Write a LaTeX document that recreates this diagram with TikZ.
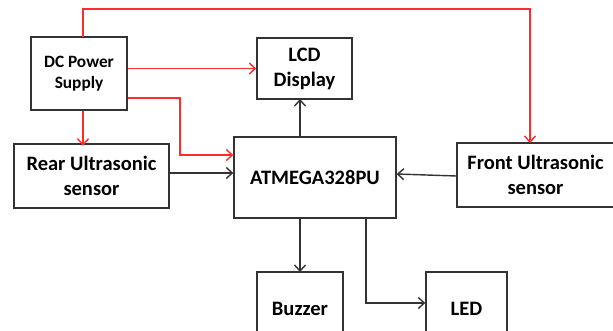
\documentclass[tikz,border=0pt]{standalone}
\usepackage{fontspec}
\setmainfont{Carlito}
\usetikzlibrary{arrows.meta}
\definecolor{ln}{HTML}{333333}
\definecolor{pwr}{HTML}{FF2A2A}
\tikzset{
  box/.style={draw=ln,line width=1.4pt,fill=white,align=center,inner sep=2pt,font=\bfseries\fontsize{20.5}{25}\selectfont},
  sbox/.style={box,font=\bfseries\fontsize{17.3}{21}\selectfont},
  ar/.style={-{Straight Barb[length=6pt,width=11pt]},line width=1.4pt,draw=ln},
  rar/.style={ar,draw=pwr},
}
\begin{document}
\begin{tikzpicture}[x=1pt,y=-1pt]
\useasboundingbox (0,0) rectangle (613,331);
\clip (0,0) rectangle (613,331);
\node[sbox,minimum width=96pt,minimum height=73pt] (dc) at (79,73.5) {DC Power\\Supply};
\node[box,minimum width=95pt,minimum height=61pt] (lcd) at (304.5,68.5) {LCD\\Display};
\node[box,minimum width=155pt,minimum height=64pt] (rear) at (91.5,176) {Rear Ultrasonic\\sensor};
\node[box,minimum width=162pt,minimum height=81pt] (mcu) at (315,177.5) {ATMEGA328PU};
\node[box,minimum width=157pt,minimum height=64pt] (front) at (535.5,175) {Front Ultrasonic\\sensor};
\node[box,minimum width=86pt,minimum height=73pt] (buz) at (300,308.5) {Buzzer};
\node[box,minimum width=81pt,minimum height=73pt] (led) at (466.5,308.5) {LED};
% power lines
\draw[rar] (dc.east |- lcd.west) -- (lcd.west);
\draw[rar] (dc.east) ++(0,24.5) -| (180,155) -- (mcu.west |- 0,155);
\draw[rar] (dc.south) ++(4,0) -- ++(0,35);
\draw[rar] (83,37) |- (530,9) -- (530,143);
% signals
\draw[ar] (rear.east |- 0,173) -- (mcu.west |- 0,173);
\draw[ar] (front.west |- 0,176) -- (mcu.east |- 0,174);
\draw[ar] (300,137) -- (300,99);
\draw[ar] (300,218) -- (300,272);
\draw[ar] (366,218) |- (led.west |- 0,303);
\end{tikzpicture}
\end{document}
